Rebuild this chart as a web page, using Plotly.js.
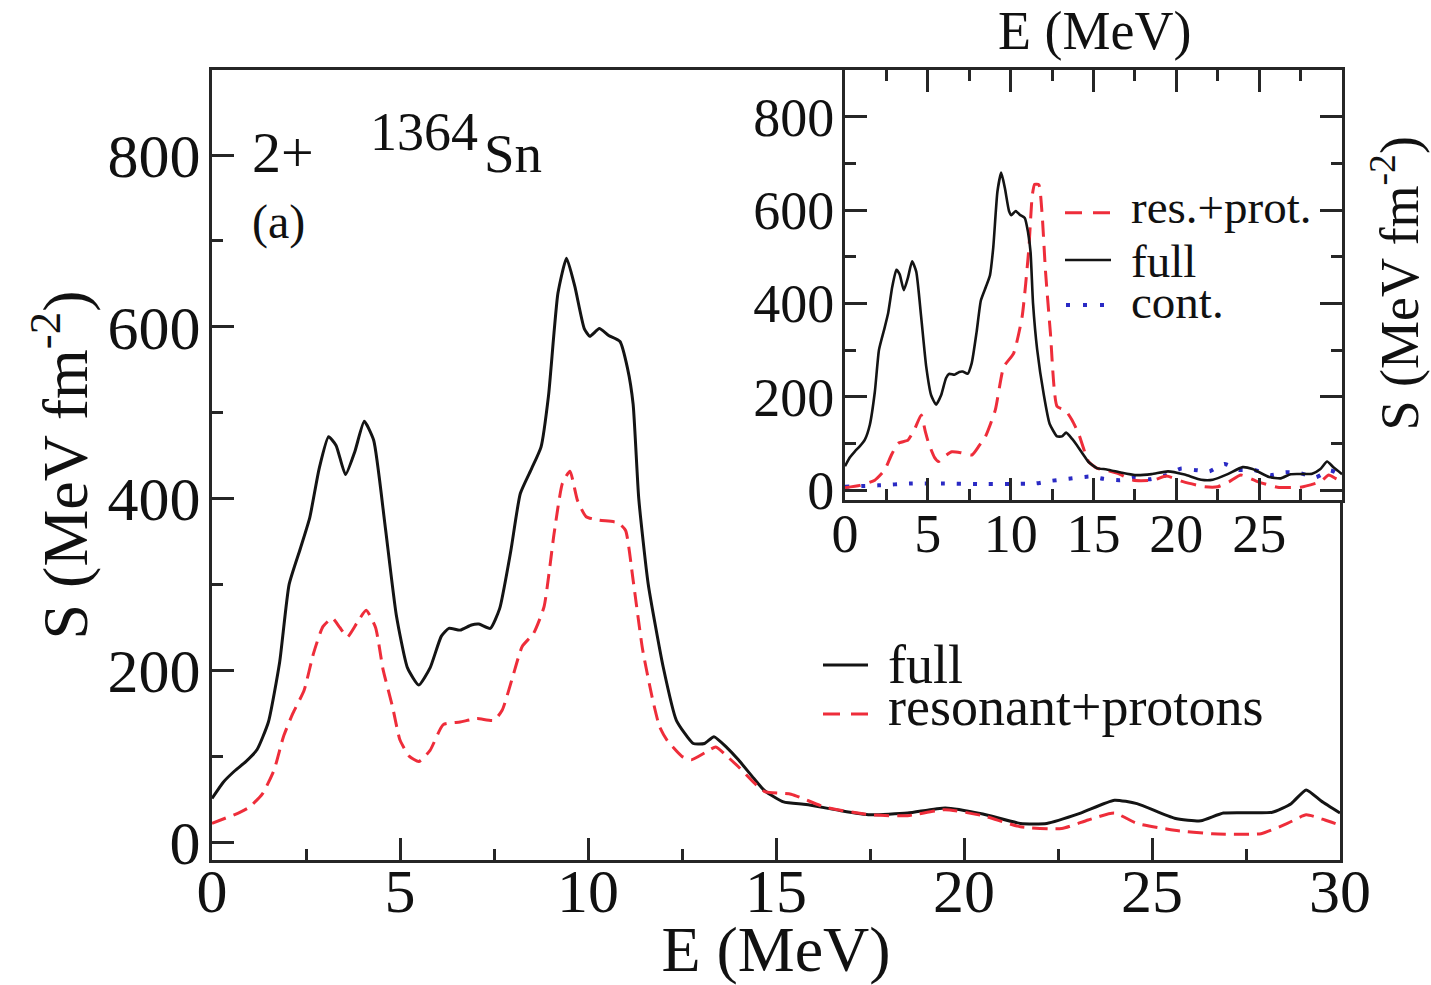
<!DOCTYPE html>
<html>
<head>
<meta charset="utf-8">
<script src="https://cdn.plot.ly/plotly-3.0.1.min.js"></script>
<style>html,body{margin:0;padding:0;background:#fff;}#chart{width:1431px;height:985px;}</style>
</head>
<body>
<div id="chart"></div>
<script>
// ---------- data ----------
// main panel: full strength
const E_full = [0,0.3,0.6,0.9,1.2,1.5,1.8,2.05,2.35,2.6,2.85,3.1,3.3,3.55,3.8,4.05,4.3,4.6,4.9,5.2,5.5,5.8,6.1,6.3,6.6,6.9,7.1,7.4,7.65,7.95,8.2,8.5,8.75,8.95,9.2,9.43,9.65,9.9,10.05,10.3,10.55,10.85,11.05,11.2,11.35,11.6,12.0,12.35,12.8,13.1,13.35,13.7,14.0,14.4,14.7,15.2,15.8,16.7,17.5,18.5,19.5,20.5,21.5,22.2,23.1,24.0,24.6,25.6,26.3,26.9,28.2,28.7,29.1,29.5,30];
const S_full = [51,70,83,94,108,140,210,300,342,378,435,472,462,428,455,490,468,370,265,203,183,203,240,249,247,253,254,249,272,340,406,435,460,520,639,680,647,598,589,598,590,583,552,510,400,301,204,142,115,115,123,110,96,75,60,47,44,37,32,34,40,33,22,22,34,49,45,28,25,34,35,45,61,48,34];
// main panel: resonant + protons
const E_resprot = [0,0.35,0.7,1.0,1.35,1.65,1.9,2.15,2.45,2.7,2.95,3.2,3.4,3.6,3.85,4.1,4.35,4.55,4.8,5.0,5.25,5.5,5.8,6.15,6.6,7.05,7.5,7.72,8.0,8.25,8.55,8.83,9.1,9.32,9.52,9.72,9.95,10.3,10.8,11.0,11.2,11.45,11.7,11.9,12.1,12.5,12.75,13.1,13.4,13.7,14.0,14.4,14.7,15.4,16.3,17.5,18.5,19.5,20.5,21.5,22.6,23.3,24.0,24.6,25.6,26.6,27.9,28.6,29.1,29.6,30];
const S_resprot = [22,28,34,41,57,84,123,150,177,220,251,261,250,239,255,270,250,201,158,119,100,94,107,137,140,144,142,154,193,228,243,274,360,418,432,398,379,375,372,363,305,225,170,135,119,100,96,104,111,100,88,70,59,56,41,32,31,38,31,18,16,26,34,22,14,10,10,22,32,26,20];
// inset: res.+prot.
const E_inset_rp = [0,0.9,1.8,2.4,2.8,3.2,3.8,4.2,4.6,4.85,5.05,5.4,5.65,6.0,6.45,7.0,7.66,8.1,8.47,9.07,9.58,10.18,10.69,11.09,11.3,11.45,11.7,11.9,12.1,12.4,12.8,13.3,13.7,14.1,14.7,15.2,15.7,16.5,17.4,18.6,19.4,20.4,21.7,22.5,23.2,23.9,24.9,26.1,27.5,28.7,29.2,29.6,30];
const S_inset_rp = [5,10,21,43,75,100,107,130,161,125,100,70,61,72,82,80,75,95,114,171,264,293,371,514,630,655,654,590,470,336,179,171,150,121,61,47,43,35,21,21,30,18,7,7,18,32,18,6,6,18,32,25,18];
// inset: continuum
const E_cont = [0,2,4,6,8,10,11.5,12.5,13.5,14.8,15.6,16.6,17.5,18.4,19.4,20.3,21.1,22.0,22.9,23.8,24.7,25.7,26.6,27.5,28.4,29.3,30];
const S_cont = [7,10,14,14,13,13,14,20,24,29,24,21,27,23,32,46,43,40,56,43,43,32,38,36,27,42,30];
// tick labels
const insetXTicks = [0,5,10,15,20,25];
const mainLegend = ['full','resonant+protons'];
const insetLegend = ['res.+prot.','full','cont.'];

// ---------- layout helpers ----------
const W = 1431, H = 985;
const px = v => v / W;
const py = v => 1 - v / H;
const FONT = 'Liberation Serif';
const AX = '#262626';
const RED = '#ee2d3a';
const BLUE = '#2a2ac4';
const BLK = '#141414';

const traces = [
  {x: E_full, y: S_full, xaxis: 'x', yaxis: 'y', mode: 'lines', name: mainLegend[0],
   line: {color: BLK, width: 3, shape: 'spline', smoothing: 0.5}, showlegend: false},
  {x: E_resprot, y: S_resprot, xaxis: 'x', yaxis: 'y', mode: 'lines', name: mainLegend[1],
   line: {color: RED, width: 3, dash: '15px,8px', shape: 'spline', smoothing: 0.5}, showlegend: false},
  {x: E_cont, y: S_cont, xaxis: 'x2', yaxis: 'y2', mode: 'lines', name: insetLegend[2],
   line: {color: BLUE, width: 4, dash: '4px,12px', shape: 'spline', smoothing: 0.5}, showlegend: false},
  {x: E_inset_rp, y: S_inset_rp, xaxis: 'x2', yaxis: 'y2', mode: 'lines', name: insetLegend[0],
   line: {color: RED, width: 3, dash: '16px,9px', shape: 'spline', smoothing: 0.5}, showlegend: false},
  {x: E_full, y: S_full, xaxis: 'x2', yaxis: 'y2', mode: 'lines', name: insetLegend[1],
   line: {color: BLK, width: 2.6, shape: 'spline', smoothing: 0.5}, showlegend: false}
];

const axCommon = {
  showline: true, linewidth: 3, linecolor: AX, showgrid: false, zeroline: false,
  ticks: 'inside', tickwidth: 3, tickcolor: AX, ticklen: 22
};

const layout = {
  width: W, height: H,
  margin: {l: 0, r: 0, t: 0, b: 0},
  paper_bgcolor: '#fff', plot_bgcolor: '#fff',
  font: {family: FONT, color: '#111'},
  showlegend: false,
  xaxis: Object.assign({}, axCommon, {
    domain: [px(212), px(1340)], anchor: 'y', range: [0, 30], mirror: true,
    tickmode: 'linear', tick0: 0, dtick: 5,
    minor: {dtick: 2.5, ticks: 'inside', ticklen: 11, tickwidth: 3, tickcolor: AX},
    tickfont: {size: 62, family: FONT}, ticklabelstandoff: -25,
    title: {text: 'E (MeV)', font: {size: 64, family: FONT}, standoff: 39}
  }),
  yaxis: Object.assign({}, axCommon, {
    domain: [py(860), py(70)], anchor: 'x', range: [-20.6, 899], mirror: true,
    tickmode: 'linear', tick0: 0, dtick: 200,
    minor: {dtick: 100, ticks: 'inside', ticklen: 11, tickwidth: 3, tickcolor: AX},
    tickfont: {size: 62, family: FONT}, ticklabelstandoff: -4,
    title: {text: 'S (MeV fm<sup>-2</sup>)', font: {size: 64, family: FONT}, standoff: 0}
  }),
  xaxis2: Object.assign({}, axCommon, {
    domain: [px(845), px(1342)], anchor: 'y2', range: [0, 30], mirror: 'ticks',
    tickmode: 'array', tickvals: insetXTicks, ticktext: insetXTicks.map(String),
    minor: {tickmode: 'linear', tick0: 0, dtick: 2.5, ticks: 'inside', ticklen: 11, tickwidth: 3, tickcolor: AX},
    tickfont: {size: 54, family: FONT}, ticklabelstandoff: -16
  }),
  yaxis2: Object.assign({}, axCommon, {
    domain: [py(500), py(70)], anchor: 'x2', range: [-21.4, 900], mirror: 'ticks',
    tickmode: 'linear', tick0: 0, dtick: 200,
    minor: {dtick: 100, ticks: 'inside', ticklen: 11, tickwidth: 3, tickcolor: AX},
    tickfont: {size: 54, family: FONT}, ticklabelstandoff: -3
  }),
  shapes: [
    // main legend keys
    {type: 'line', xref: 'paper', yref: 'paper', x0: px(823), x1: px(868), y0: py(665), y1: py(665),
     line: {color: BLK, width: 3}},
    {type: 'line', xref: 'paper', yref: 'paper', x0: px(823), x1: px(868), y0: py(714), y1: py(714),
     line: {color: RED, width: 3, dash: '17px,11px'}},
    // inset legend keys
    {type: 'line', xref: 'paper', yref: 'paper', x0: px(1065), x1: px(1111), y0: py(212.7), y1: py(212.7),
     line: {color: RED, width: 3, dash: '17px,11px'}},
    {type: 'line', xref: 'paper', yref: 'paper', x0: px(1065), x1: px(1111), y0: py(260), y1: py(260),
     line: {color: BLK, width: 2.6}},
    {type: 'line', xref: 'paper', yref: 'paper', x0: px(1066), x1: px(1106), y0: py(305), y1: py(305),
     line: {color: BLUE, width: 4, dash: '4px,13px'}}
  ],
  annotations: [
    {text: '2+', xref: 'paper', yref: 'paper', x: px(250), y: py(152), xanchor: 'left', yanchor: 'middle', showarrow: false, font: {size: 58, family: FONT}},
    {text: '(a)', xref: 'paper', yref: 'paper', x: px(250), y: py(221.7), xanchor: 'left', yanchor: 'middle', showarrow: false, font: {size: 48, family: FONT}},
    {text: '1364', xref: 'paper', yref: 'paper', x: px(368.5), y: py(131.6), xanchor: 'left', yanchor: 'middle', showarrow: false, font: {size: 54, family: FONT}},
    {text: 'Sn', xref: 'paper', yref: 'paper', x: px(482), y: py(153), xanchor: 'left', yanchor: 'middle', showarrow: false, font: {size: 55, family: FONT}},
    {text: mainLegend[0], xref: 'paper', yref: 'paper', x: px(886), y: py(664.6), xanchor: 'left', yanchor: 'middle', showarrow: false, font: {size: 54, family: FONT}},
    {text: mainLegend[1], xref: 'paper', yref: 'paper', x: px(886), y: py(706.6), xanchor: 'left', yanchor: 'middle', showarrow: false, font: {size: 54, family: FONT}},
    {text: insetLegend[0], xref: 'paper', yref: 'paper', x: px(1129), y: py(207.3), xanchor: 'left', yanchor: 'middle', showarrow: false, font: {size: 47, family: FONT}},
    {text: insetLegend[1], xref: 'paper', yref: 'paper', x: px(1129), y: py(260.7), xanchor: 'left', yanchor: 'middle', showarrow: false, font: {size: 47, family: FONT}},
    {text: insetLegend[2], xref: 'paper', yref: 'paper', x: px(1129), y: py(302.3), xanchor: 'left', yanchor: 'middle', showarrow: false, font: {size: 47, family: FONT}},
    {text: 'E (MeV)', xref: 'paper', yref: 'paper', x: px(1094), y: py(31), xanchor: 'center', yanchor: 'middle', showarrow: false, font: {size: 54, family: FONT}},
    {text: 'S (MeV fm<sup>-2</sup>)', xref: 'paper', yref: 'paper', x: px(1396), y: py(283.5), xanchor: 'center', yanchor: 'middle', textangle: -90, showarrow: false, font: {size: 54, family: FONT}}
  ]
};

Plotly.newPlot('chart', traces, layout, {displayModeBar: false, staticPlot: true});
</script>
</body>
</html>
